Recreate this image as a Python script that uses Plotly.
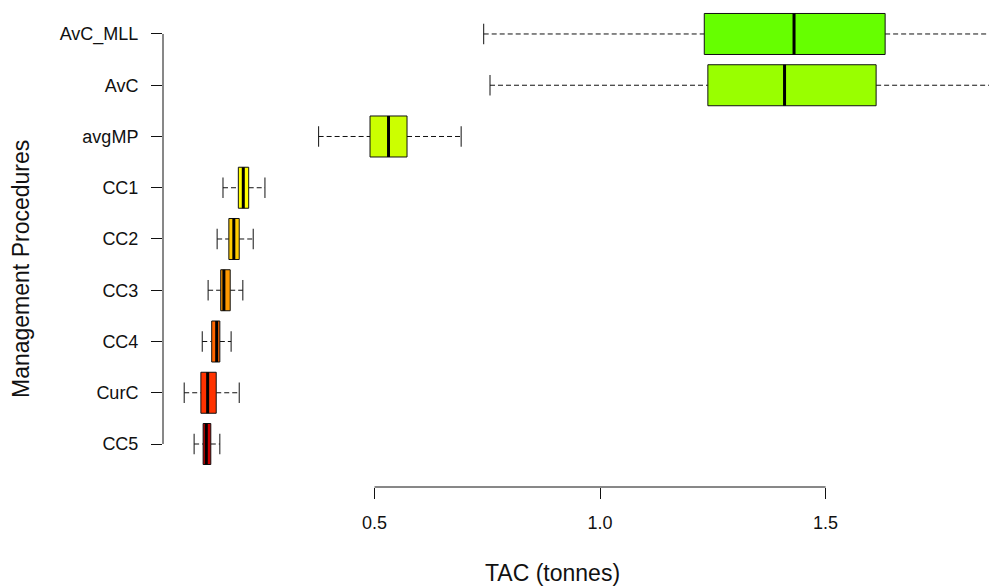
import plotly.graph_objects as go

# Data (top to bottom as displayed)
mps = ["AvC_MLL", "AvC", "avgMP", "CC1", "CC2", "CC3", "CC4", "CurC", "CC5"]
lower = [0.742, 0.756, 0.376, 0.164, 0.151, 0.131, 0.118, 0.078, 0.100]
q1 = [1.231, 1.239, 0.490, 0.198, 0.177, 0.159, 0.139, 0.115, 0.120]
median = [1.430, 1.409, 0.531, 0.209, 0.188, 0.166, 0.150, 0.130, 0.127]
q3 = [1.632, 1.612, 0.572, 0.221, 0.200, 0.180, 0.157, 0.149, 0.137]
upper = [2.15, 2.10, 0.692, 0.257, 0.231, 0.208, 0.182, 0.200, 0.157]
colors = ["#66FF00", "#99FF00", "#CCFF00", "#FFFF00", "#FFCC00",
          "#FF9900", "#FF6600", "#FF3300", "#CC0000"]
x_ticks = [0.5, 1.0, 1.5]
x_tick_labels = ["0.5", "1.0", "1.5"]

n = len(mps)
pos = [n - i for i in range(n)]  # AvC_MLL at top (9), CC5 at bottom (1)
half = 0.4
cap = 0.2

fig = go.Figure()
for i in range(n):
    p = pos[i]
    # whiskers (dashed)
    fig.add_trace(go.Scatter(x=[lower[i], q1[i], None, q3[i], upper[i]],
                             y=[p, p, None, p, p], mode="lines",
                             line=dict(color="#111111", width=1, dash="5px,3px"),
                             hoverinfo="skip", showlegend=False))
    # caps
    fig.add_trace(go.Scatter(x=[lower[i], lower[i], None, upper[i], upper[i]],
                             y=[p - cap, p + cap, None, p - cap, p + cap], mode="lines",
                             line=dict(color="#111111", width=1),
                             hoverinfo="skip", showlegend=False))
    # box
    fig.add_trace(go.Scatter(x=[q1[i], q3[i], q3[i], q1[i], q1[i]],
                             y=[p - half, p - half, p + half, p + half, p - half],
                             mode="lines", fill="toself", fillcolor=colors[i],
                             line=dict(color="#111111", width=1),
                             hoverinfo="skip", showlegend=False))
    # median
    fig.add_trace(go.Scatter(x=[median[i], median[i]], y=[p - half, p + half],
                             mode="lines", line=dict(color="black", width=3),
                             hoverinfo="skip", showlegend=False))

font_family = "Liberation Sans, Arial, sans-serif"

# the page has an 8px body margin, so the figure is offset by 8px
W, H = 989, 578
L, B = 155, 99
pw, ph = W - L, H - B

fig.update_layout(
    width=W, height=H,
    margin=dict(l=L, r=0, t=0, b=B),
    plot_bgcolor="white", paper_bgcolor="white",
    font=dict(family=font_family, size=18, color="#111111"),
    xaxis=dict(range=[0.031, 1.880], showgrid=False, zeroline=False, showline=False,
               tickmode="array", tickvals=x_ticks, ticktext=x_tick_labels,
               ticks="outside", ticklen=11, tickcolor="#111111", tickwidth=1,
               tickfont=dict(size=18), ticklabelstandoff=8),
    yaxis=dict(range=[0.161, 9.507], showgrid=False, zeroline=False, showline=False,
               tickmode="array", tickvals=pos, ticktext=mps,
               ticks="outside", ticklen=11, tickcolor="#111111", tickwidth=1,
               tickfont=dict(size=18), ticklabelstandoff=9),
    shapes=[
        dict(type="line", xref="x", yref="paper", x0=x_ticks[0], x1=x_ticks[-1],
             y0=0, y1=0, line=dict(color="#111111", width=1)),
        dict(type="line", xref="paper", yref="y", x0=0, x1=0,
             y0=min(pos), y1=max(pos), line=dict(color="#111111", width=1)),
    ],
    annotations=[
        dict(text="TAC (tonnes)", xref="paper", yref="paper",
             x=(552 - 163) / pw, y=-(573 - 487) / ph,
             showarrow=False, font=dict(size=23), xanchor="center", yanchor="middle"),
        dict(text="Management Procedures", xref="paper", yref="paper",
             x=-(163 - 21) / pw, y=(487 - 269) / ph, textangle=-90,
             showarrow=False, font=dict(size=23), xanchor="center", yanchor="middle"),
    ],
)

fig.write_html("out.html")
